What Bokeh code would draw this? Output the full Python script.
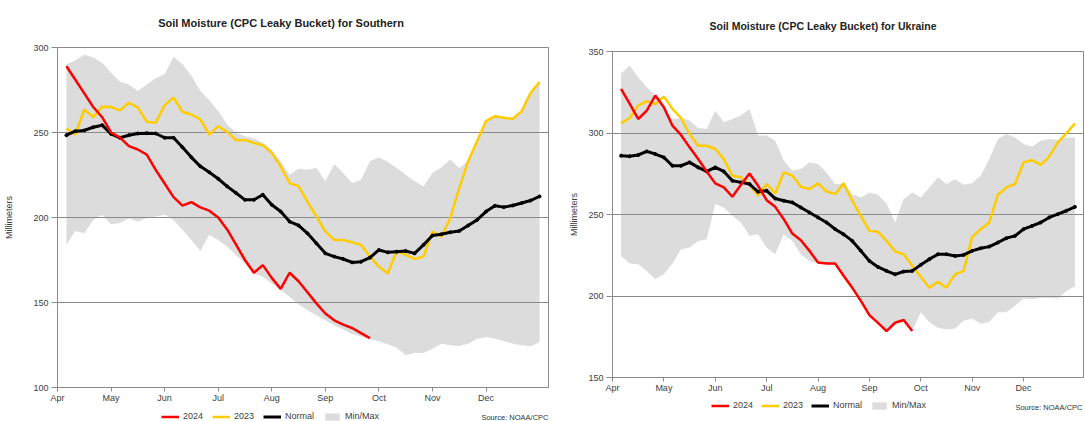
from bokeh.plotting import figure
from bokeh.layouts import row, column
from bokeh.models import Label, Legend, LegendItem, FixedTicker, Range1d
from bokeh.embed import file_html
from bokeh.resources import INLINE

FONT = "Liberation Sans"

# ---- x axis: pentad index (6 pentads per month), months Apr..Dec ----
pentad = list(range(1, 55))
month_labels = ["Apr", "May", "Jun", "Jul", "Aug", "Sep", "Oct", "Nov", "Dec"]
month_ticks = [0, 6, 12, 18, 24, 30, 36, 42, 48]
legend_labels = ["2024", "2023", "Normal", "Min/Max"]
source_text = "Source: NOAA/CPC"

# ---- Southern ----
south_title = "Soil Moisture (CPC Leaky Bucket) for Southern"
south_2024 = [289, 281, 273, 265, 259, 250, 247, 242, 240, 237,
              228, 220, 212, 207, 209, 206, 204, 200, 193, 184,
              175, 167.5, 172, 164.5, 158, 167.5, 162.5, 156, 149.5, 143.5,
              139.5, 137, 135, 132, 129]
south_2023 = [252.4, 248.8, 263.6, 259, 265.2, 265, 263, 267.5, 264.6, 256.3,
              255.7, 266.1, 270.5, 262.2, 260.6, 257.7, 248.8, 253.7, 250.4, 245.5,
              245.5, 243.9, 242.5, 238, 230.1, 220.3, 218.3, 209.4, 200.6, 191.7,
              186.8, 186.8, 185.4, 183.9, 177, 171.1, 167.1, 180.3, 178, 175.6,
              177, 191.7, 188.8, 199.6, 217.3, 233.1, 244.9, 256.7, 259.6, 258.7,
              258.1, 262.6, 273.4, 279.7]
south_normal = [248.4, 250.8, 251.2, 253.1, 254.3, 249.2, 246.9, 248.4, 249.4, 249.6,
                249.4, 246.9, 246.9, 241.3, 235.4, 230.1, 226.6, 222.8, 218.3, 214.4,
                210.4, 210.4, 213.4, 207.5, 203.5, 197.6, 195.3, 190.7, 184.8, 178.9,
                177, 175.6, 173.6, 174, 176.4, 180.9, 179.5, 179.9, 180.3, 178.9,
                183.9, 189.4, 190.2, 191.3, 192.1, 195.3, 198.6, 203.5, 206.9, 206.1,
                207.1, 208.5, 210, 212.4]
south_max = [290, 292.5, 295.7, 294.1, 291.1, 285.2, 279.9, 278.3, 274.4, 278.3,
             281.9, 284.3, 294.5, 290.2, 283.3, 274.4, 268.9, 262.6, 254.7, 249.8,
             247.8, 246.5, 243.9, 240, 233.1, 225.2, 228.7, 228.1, 229.1, 221.3,
             231.5, 226.2, 220.3, 222.2, 233.1, 235.4, 232.7, 229.1, 225.2, 221.3,
             218.3, 226.2, 229.5, 234.1, 229.1, 233.1, 244.9, 256.7, 259.6, 258.7,
             258.1, 262.6, 273.4, 279.7]
south_min = [183.9, 192.1, 190.7, 198.6, 201.6, 196.1, 196.7, 199.6, 197.6, 199.6,
             200.6, 201.6, 198.6, 192.7, 186.8, 180.3, 189.8, 186.8, 182.9, 178,
             173, 167, 165.2, 161.2, 157.5, 153.3, 149, 145.5, 142.5, 139.6,
             136.6, 134.1, 131.5, 130, 128.4, 127.2, 125.4, 123.4, 118.9, 120.5,
             120.3, 122.8, 125.8, 124.8, 124.4, 125.8, 128.7, 129.5, 128.7, 127.4,
             125.8, 124.8, 124.2, 126.8]
south_yticks = [100, 150, 200, 250, 300]

# ---- Ukraine ----
ukr_title = "Soil Moisture (CPC Leaky Bucket) for Ukraine"
ukr_2024 = [327, 318, 308.6, 313.7, 323, 315.8, 304.5, 298.8, 291.2, 284,
            276.4, 269.1, 266.6, 260.9, 268.2, 275.2, 267.6, 258.8, 254.7, 247.1,
            238.3, 234.2, 227.7, 220.5, 219.9, 219.9, 212.3, 205, 197, 188.3,
            183.5, 178.5, 183.6, 185.3, 178.5]
ukr_2023 = [305.9, 309.2, 316.8, 319.5, 317.8, 322.3, 314.8, 309.2, 299.4, 292.2,
            292.2, 290.2, 284, 273.8, 272.8, 268.2, 261.5, 268.7, 262.9, 275.8,
            273.8, 267, 265.6, 269.1, 264.1, 262.5, 269.1, 258.4, 249.2, 240,
            239.4, 233.8, 227.3, 225.6, 218.5, 211.7, 205.1, 208.8, 205.1, 213.3,
            215.4, 236.3, 241, 245.1, 262.1, 266.6, 268.7, 282, 283.4, 280.5,
            285.5, 294.3, 299.8, 305.9]
ukr_normal = [286.1, 285.7, 286.5, 288.7, 287.1, 285, 279.9, 279.9, 282, 278.9,
              276.4, 278.9, 276.4, 270.7, 269.7, 268.7, 263.9, 264.6, 259.8, 258.4,
              257.4, 254.3, 251.2, 248.2, 245.1, 241, 237.8, 233.8, 227.7, 221.5,
              217.8, 215.4, 213.3, 215, 215.4, 219.1, 222.6, 225.6, 225.6, 224.6,
              225.2, 227.7, 229.3, 230.3, 232.8, 235.5, 236.9, 241, 243, 245.1,
              248.2, 250.2, 252.3, 254.7]
ukr_max = [336.3, 341.4, 334.2, 328.1, 323, 315.8, 308.6, 309.2, 307.6, 303.1,
           302.5, 313.7, 306.6, 308.6, 310.7, 314.8, 298.4, 298.4, 295.3, 283,
           276.8, 277.9, 282, 281, 275.8, 268.7, 268.7, 262.5, 260.5, 263.5,
           262.1, 256.8, 245.1, 259.5, 263.5, 260.5, 266.6, 272.8, 268.7, 271.7,
           268.2, 269.1, 273.8, 284, 296.3, 299.4, 297.3, 293.2, 291.6, 295.3,
           296.3, 295.7, 297.3, 297.3]
ukr_min = [224.6, 219.9, 219.5, 215.4, 210.3, 213.3, 219.9, 228.7, 229.7, 233.8,
           234.8, 256.4, 254.3, 249.2, 245.1, 236.9, 237.9, 229.7, 225.6, 237.9,
           233.8, 225.6, 221.5, 220, 219.9, 219.9, 212.3, 205, 197, 188.3,
           183.5, 178.5, 183.6, 185.3, 178.5, 190, 184, 180.5, 179.5, 180,
           185, 186, 183, 184, 190, 190, 194, 198.5, 198, 199,
           199, 198.5, 203, 206]
ukr_yticks = [150, 200, 250, 300, 350]

RED = "#ff0000"
YEL = "#ffcc00"
BLK = "#000000"
BAND = "#dcdcdc"
GRID = "#8a8a8a"
TXT = "#404040"


def strip(width, height):
    # inside a column Bokeh aligns this strip's frame with the chart's frame,
    # so screen x below is measured from the chart's left frame edge
    s = figure(width=width, height=height, output_backend="svg", toolbar_location=None,
               x_axis_type=None, y_axis_type=None,
               x_range=Range1d(0, 1), y_range=Range1d(0, 1),
               min_border_left=0, min_border_right=0, min_border_top=0, min_border_bottom=0)
    s.outline_line_color = None
    s.background_fill_color = "white"
    s.border_fill_color = "white"
    return s


def title_strip(title, width, height, tx, ty, size):
    s = strip(width, height)
    s.add_layout(Label(x=tx, y=ty, x_units="screen", y_units="screen",
                       text=title, text_align="center", text_baseline="middle",
                       text_font=FONT, text_font_style="bold", text_font_size=size,
                       text_color="#222222"))
    return s


def legend_strip(width, height, lx, ly, spacing, sx, sy):
    s = strip(width, height)
    # legend proxies: outside the strip's visible range, only their legend glyphs show
    px, py1, py2 = [5, 6], [5, 5], [6, 6]
    r24 = s.line(x=px, y=py1, line_color=RED, line_width=2.5)
    r23 = s.line(x=px, y=py1, line_color=YEL, line_width=2.5)
    rn = s.line(x=px, y=py1, line_color=BLK, line_width=3)
    rb = s.varea(x=px, y1=py1, y2=py2, fill_color=BAND)
    legend = Legend(items=[LegendItem(label=l, renderers=[r])
                           for l, r in zip(legend_labels, [r24, r23, rn, rb])],
                    location=(lx, ly), orientation="horizontal",
                    border_line_color=None, background_fill_alpha=0,
                    padding=0, margin=0, spacing=spacing,
                    glyph_width=18, glyph_height=9, label_height=9,
                    label_standoff=4, label_text_font=FONT,
                    label_text_font_size="9px", label_text_color=TXT)
    s.add_layout(legend)
    s.add_layout(Label(x=sx, y=sy, x_units="screen", y_units="screen",
                       text=source_text, text_align="right",
                       text_baseline="middle", text_font=FONT,
                       text_font_size="7.5px", text_color="#333333"))
    return s


def main_chart(width, height, ml, mr, mt, mb, yticks, s24, s23, snorm, smin, smax,
               ylab_standoff):
    p = figure(width=width, height=height, output_backend="svg", toolbar_location=None,
               x_range=Range1d(0, 55), y_range=Range1d(yticks[0], yticks[-1]),
               min_border_left=ml, min_border_right=mr,
               min_border_top=mt, min_border_bottom=mb)
    p.background_fill_color = "white"
    p.border_fill_color = "white"
    p.outline_line_color = GRID
    p.xgrid.visible = False
    p.ygrid.visible = False

    p.varea(x=pentad, y1=smin, y2=smax, fill_color=BAND)
    p.hspan(y=yticks[1:-1], line_color=GRID, line_width=1)
    p.line(pentad[:len(s23)], s23, line_color=YEL, line_width=2.5)
    p.line(pentad[:len(snorm)], snorm, line_color=BLK, line_width=3)
    p.scatter(pentad[:len(snorm)], snorm, size=3, color=BLK)
    p.line(pentad[:len(s24)], s24, line_color=RED, line_width=2.5)

    p.xaxis.ticker = FixedTicker(ticks=month_ticks)
    p.xaxis.major_label_overrides = {t: l for t, l in zip(month_ticks, month_labels)}
    p.yaxis.ticker = FixedTicker(ticks=yticks)
    for ax in (p.xaxis[0], p.yaxis[0]):
        ax.axis_line_color = GRID
        ax.major_tick_line_color = GRID
        ax.minor_tick_line_color = None
        ax.major_tick_in = 0
        ax.major_label_text_font = FONT
        ax.major_label_text_font_size = "9px"
        ax.major_label_text_color = TXT
    p.xaxis.major_tick_out = 4
    p.xaxis.major_label_standoff = 1
    p.yaxis.major_tick_out = 6
    p.yaxis.major_label_standoff = 3
    p.yaxis.axis_label = "Millimeters"
    p.yaxis.axis_label_text_font = FONT
    p.yaxis.axis_label_text_font_size = "9px"
    p.yaxis.axis_label_text_font_style = "normal"
    p.yaxis.axis_label_text_color = TXT
    p.yaxis.axis_label_standoff = ylab_standoff
    return p


# Southern column: 40 (title) + 368 (chart) + 13 (legend) = 421; frame x 57..548
t1 = title_strip(south_title, 560, 40, 223.5, 17.5, "11px")
p1 = main_chart(560, 368, 57, 12, 7, 21, south_yticks, south_2024, south_2023,
                south_normal, south_min, south_max, 16)
l1 = legend_strip(560, 13, 104, 0, 9, 491, 4.5)

# Ukraine column: 40 (title) + 358 (chart) + 23 (legend) = 421; frame x 612..1083
t2 = title_strip(ukr_title, 525, 40, 210.5, 14.6, "10.5px")
p2 = main_chart(525, 358, 52, 2, 11, 21, ukr_yticks, ukr_2024, ukr_2023,
                ukr_normal, ukr_min, ukr_max, 6)
l2 = legend_strip(525, 23, 99, 11, 8, 470, 14.3)

layout = row(column(t1, p1, l1, spacing=0), column(t2, p2, l2, spacing=0), spacing=0)
open("out.html", "w").write(file_html(layout, INLINE))
